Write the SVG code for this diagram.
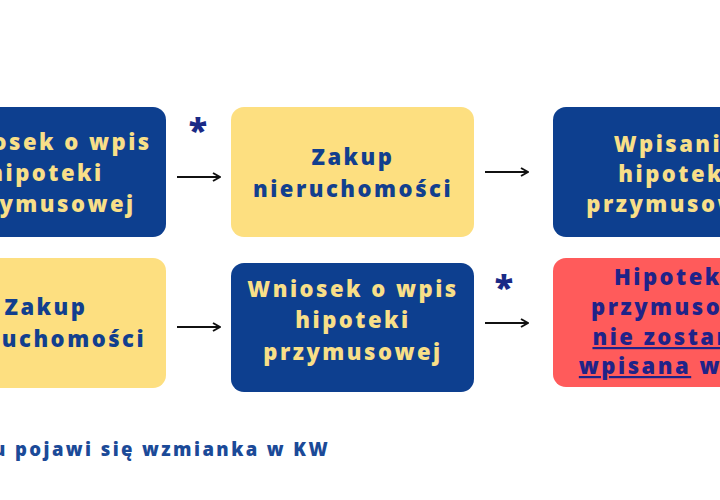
<svg xmlns="http://www.w3.org/2000/svg" width="720" height="500" viewBox="0 0 720 500">
<defs>
<style>
.t{font-family:"Open Sans","Noto Sans",sans-serif;font-weight:800;font-size:22px;text-anchor:middle;letter-spacing:2.5px}
.blue{fill:#0d3f8f}
.yel{fill:#fddf80}
.red{fill:#ff5b5b}
.ty{fill:#f8df88}
.tb{fill:#123f8e}
.tr{fill:#1f2388}
.ast{font-family:"Open Sans","Noto Sans",sans-serif;font-weight:800;font-size:34px;fill:#1a2a86;text-anchor:middle}
.c{stroke:#111;stroke-width:2;fill:none}
.note{font-family:"Open Sans","Noto Sans",sans-serif;font-weight:800;font-size:18.5px;letter-spacing:2.4px;fill:#1b4a98}
</style>
<marker id="ah" viewBox="0 0 10 10" refX="9" refY="5" markerWidth="10" markerHeight="10" markerUnits="userSpaceOnUse" orient="auto">
<path d="M2,1 L9,5 L2,9" fill="none" stroke="#111" stroke-width="2"/>
</marker>
</defs>
<rect width="720" height="500" fill="#ffffff"/>
<g id="n1">
<rect class="blue" x="-76" y="107" width="242" height="130" rx="13"/>
<text class="t ty"><tspan x="46" y="150">Wniosek o wpis</tspan><tspan x="46" y="181">hipoteki</tspan><tspan x="46" y="212">przymusowej</tspan></text>
</g>
<g id="n2">
<rect class="yel" x="231" y="107" width="243" height="130" rx="13"/>
<text class="t tb"><tspan x="353" y="165">Zakup</tspan><tspan x="353" y="197">nieruchomości</tspan></text>
</g>
<g id="n3">
<rect class="blue" x="553" y="107" width="243" height="130" rx="13"/>
<text class="t ty"><tspan x="676" y="152">Wpisanie</tspan><tspan x="676" y="182">hipoteki</tspan><tspan x="676" y="212">przymusowej</tspan></text>
</g>
<g id="n4">
<rect class="yel" x="-76" y="258" width="242" height="130" rx="13"/>
<text class="t tb"><tspan x="46" y="315">Zakup</tspan><tspan x="46" y="347">nieruchomości</tspan></text>
</g>
<g id="n5">
<rect class="blue" x="231" y="263" width="243" height="129" rx="13"/>
<text class="t ty"><tspan x="353" y="297">Wniosek o wpis</tspan><tspan x="353" y="328">hipoteki</tspan><tspan x="353" y="360">przymusowej</tspan></text>
</g>
<g id="n6">
<rect class="red" x="553" y="258" width="243" height="129" rx="13"/>
<text class="t tr"><tspan x="676" y="285">Hipoteka</tspan><tspan x="676" y="315">przymusowa</tspan><tspan x="676" y="345" text-decoration="underline">nie zostanie</tspan><tspan x="676" y="374"><tspan text-decoration="underline">wpisana</tspan> w KW</tspan></text>
</g>
<g id="connectors">
<line class="c" x1="177" y1="177" x2="220" y2="177" marker-end="url(#ah)"/>
<line class="c" x1="485" y1="172" x2="528" y2="172" marker-end="url(#ah)"/>
<line class="c" x1="177" y1="327" x2="220" y2="327" marker-end="url(#ah)"/>
<line class="c" x1="485" y1="323" x2="528" y2="323" marker-end="url(#ah)"/>
<text class="ast" x="198" y="143">*</text>
<text class="ast" x="504" y="300">*</text>
</g>
<text class="note" x="-7" y="456">u pojawi się wzmianka w KW</text>
</svg>
